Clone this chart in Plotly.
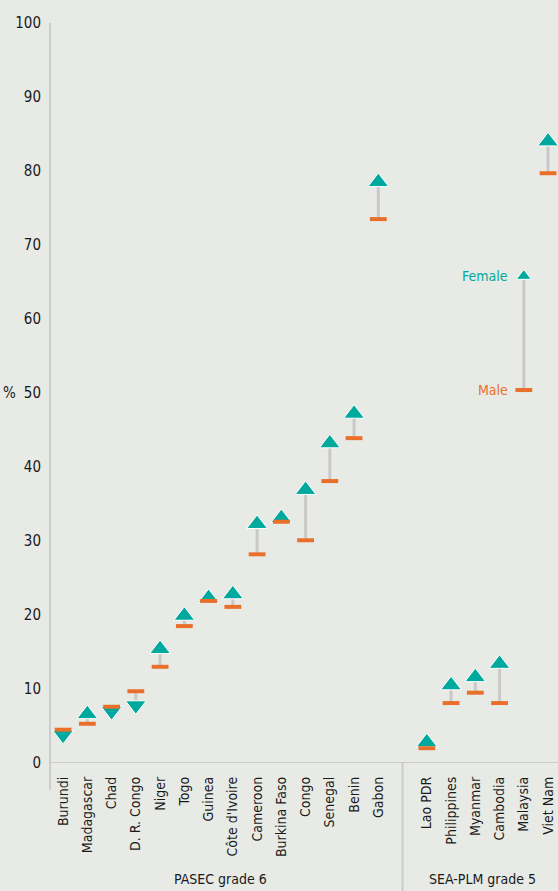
import plotly.graph_objects as go

pasec = ["Burundi", "Madagascar", "Chad", "D. R. Congo", "Niger", "Togo", "Guinea",
         "Côte d'Ivoire", "Cameroon", "Burkina Faso", "Congo", "Senegal", "Benin", "Gabon"]
pasec_female = [3.8, 6.6, 7.0, 7.8, 15.4, 19.9, 22.3, 22.8, 32.3, 33.1, 36.9, 43.2, 47.2, 78.5]
pasec_male = [4.5, 5.3, 7.6, 9.7, 13.0, 18.5, 21.9, 21.1, 28.2, 32.6, 30.1, 38.1, 43.9, 73.5]

sea = ["Lao PDR", "Philippines", "Myanmar", "Cambodia", "Malaysia", "Viet Nam"]
sea_female = [2.8, 10.5, 11.6, 13.4, 65.8, 84.0]
sea_male = [2.0, 8.1, 9.5, 8.1, 50.4, 79.7]

groups = ["PASEC grade 6", "SEA-PLM grade 5"]
y_ticks = [0, 10, 20, 30, 40, 50, 60, 70, 80, 90, 100]

TEAL = "#00a99d"
ORANGE = "#e8702a"
GREY = "#c9c9c9"
BG = "#e8eae6"
FONT = "Liberation Sans Narrow, DejaVu Sans Condensed, Roboto, sans-serif"

names = pasec + sea
female = pasec_female + sea_female
male = pasec_male + sea_male
xs = list(range(len(pasec))) + [len(pasec) + 1 + i for i in range(len(sea))]

fig = go.Figure()

# connectors
lx, ly = [], []
for x, f, m in zip(xs, female, male):
    lx += [x, x, None]
    ly += [m, f, None]
fig.add_trace(go.Scatter(x=lx, y=ly, mode="lines", line=dict(color=GREY, width=3),
                         hoverinfo="skip", showlegend=False))

sym = ["triangle-up" if f >= m else "triangle-down" for f, m in zip(female, male)]
sizes = [13 if n == "Malaysia" else 18 for n in names]
fig.add_trace(go.Scatter(x=xs, y=female, mode="markers", name="Female",
                         marker=dict(symbol=sym, size=sizes, color=TEAL, opacity=1),
                         text=names, showlegend=False, cliponaxis=False))
fig.add_trace(go.Scatter(x=xs, y=male, mode="markers", name="Male",
                         marker=dict(symbol="line-ew", size=12, opacity=1,
                                     line=dict(color=ORANGE, width=4)),
                         text=names, showlegend=False, cliponaxis=False))

mal = names.index("Malaysia")
fig.add_annotation(x=xs[mal], y=female[mal], text="Female", showarrow=False,
                   xanchor="right", xshift=-14, font=dict(color=TEAL, size=14, family=FONT))
fig.add_annotation(x=xs[mal], y=male[mal], text="Male", showarrow=False,
                   xanchor="right", xshift=-14, font=dict(color=ORANGE, size=14, family=FONT))

# group labels
fig.add_annotation(x=(len(pasec) - 1) / 2, y=-0.17, yref="paper", text=groups[0],
                   showarrow=False, font=dict(size=14, family=FONT, color="#1a1a1a"))
fig.add_annotation(x=xs[-1] - (len(sea) - 1) / 2 - 0.2, y=-0.17, yref="paper", text=groups[1],
                   showarrow=False, font=dict(size=14, family=FONT, color="#1a1a1a"))

# % label
fig.add_annotation(x=0, xref="paper", y=50, text="%", showarrow=False,
                   xanchor="right", xshift=-32, font=dict(size=15, family=FONT, color="#1a1a1a"))

# axis lines
fig.add_shape(type="line", xref="paper", yref="paper", x0=0, x1=0, y0=-0.036, y1=1,
              line=dict(color="#cccccc", width=2))
fig.add_shape(type="line", xref="paper", yref="y", x0=0, x1=1, y0=0, y1=0,
              line=dict(color="#cccccc", width=2))
fig.add_shape(type="line", xref="x", yref="paper", x0=len(pasec), x1=len(pasec),
              y0=0, y1=-0.175, line=dict(color="#cccccc", width=2))

fig.update_layout(
    width=558, height=891,
    margin=dict(l=50, r=0, t=23, b=128),
    paper_bgcolor=BG, plot_bgcolor=BG,
    font=dict(family=FONT, size=14, color="#1a1a1a"),
    xaxis=dict(range=[-0.54, xs[-1] + 0.41], tickvals=xs, ticktext=names, tickangle=-90,
               showgrid=False, zeroline=False, showline=False, ticks="",
               ticklabelstandoff=10, tickfont=dict(size=14)),
    yaxis=dict(range=[0, 100], tickvals=y_ticks, showgrid=False, zeroline=False,
               showline=False, ticks="", ticklabelstandoff=8, tickfont=dict(size=15)),
)

fig.write_html("out.html", config={"displayModeBar": False},
               post_script="document.body.style.margin='0';document.body.style.padding='0';"
                           "document.body.style.overflow='hidden';")
